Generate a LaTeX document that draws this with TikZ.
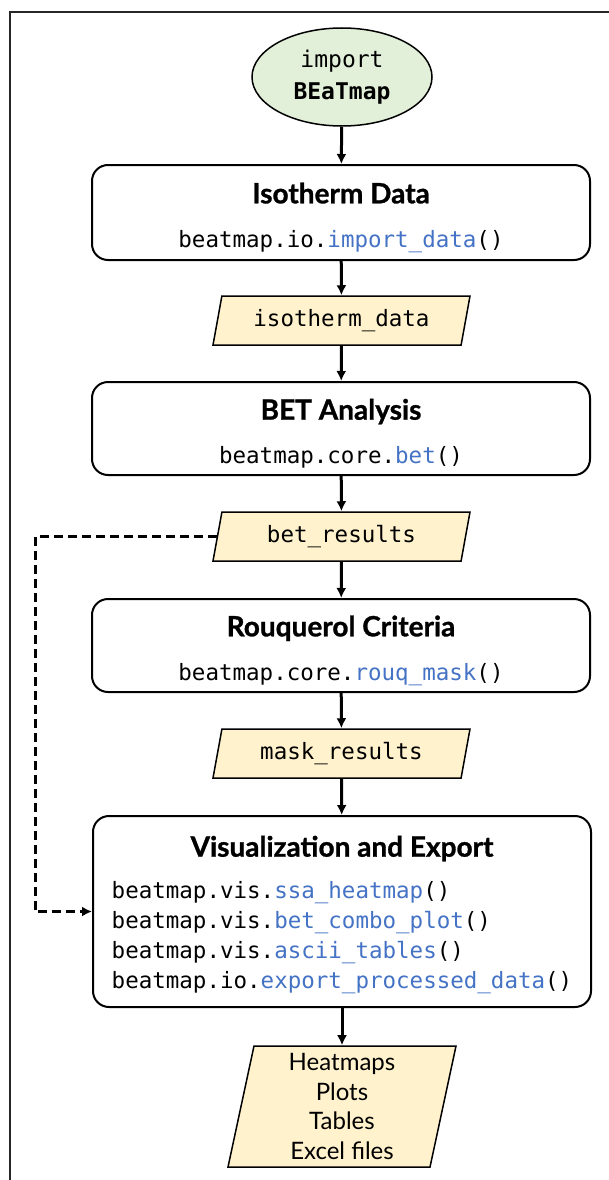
\documentclass[tikz,border=0pt]{standalone}
\usepackage{fontspec}
\setmainfont{Lato}
\setmonofont{DejaVu Sans Mono}
\newfontfamily\titlefont{Lato}[BoldFeatures={FakeBold=1}]
\usepackage{xcolor}
\usetikzlibrary{arrows.meta,shapes.geometric,positioning}

\definecolor{startgreen}{HTML}{E2EFD9}
\definecolor{datayellow}{HTML}{FFF2CC}
\definecolor{fnblue}{HTML}{4472C4}

\newcommand{\fn}[1]{\textcolor{fnblue}{#1}}
\newcommand{\boxtitle}[1]{{\fontsize{28}{32}\titlefont\bfseries\rule{0pt}{31pt}#1}}

\tikzset{
    stepbox/.style={draw, line width=2pt, rounded corners=16pt,
        minimum width=498pt, align=center,
        font=\ttfamily\fontsize{22.5}{30}\selectfont},
    databox/.style={draw, line width=1.5pt, fill=datayellow, trapezium,
        trapezium left angle=73, trapezium right angle=107,
        trapezium stretches body, minimum width=257pt, minimum height=49pt,
        inner xsep=0pt, font=\ttfamily\fontsize{22.5}{27}\selectfont},
    flow/.style={line width=3pt, -{Latex[length=10pt,width=10pt]}},
    dashflow/.style={flow, dash pattern=on 9pt off 5pt},
}

\begin{document}
\begin{tikzpicture}[x=1pt, y=-1pt]
    \useasboundingbox (0,0) rectangle (609,1180);
    \draw[line width=2pt, black!85] (10,1180) -- (10,12) -- (609,12);

    \node[ellipse, draw, line width=1.5pt, fill=startgreen, minimum width=180pt,
        minimum height=98pt, align=center,
        font=\ttfamily\fontsize{23}{32}\selectfont] (start) at (342,77)
        {import\\\textbf{BEaTmap}};

    \node[stepbox, minimum height=95pt] (iso) at (341,212.5)
        {\boxtitle{Isotherm Data}\\[14pt]beatmap.io.\fn{import\_data}()};
    \node[databox] (isodata) at (341.5,320.5) {isotherm\_data};

    \node[stepbox, minimum height=93pt] (bet) at (341,428.5)
        {\boxtitle{BET Analysis}\\[14pt]beatmap.core.\fn{bet}()};
    \node[databox] (betres) at (341.5,536.5) {bet\_results};

    \node[stepbox, minimum height=93pt] (rouq) at (341,645.5)
        {\boxtitle{Rouquerol Criteria}\\[14pt]beatmap.core.\fn{rouq\_mask}()};
    \node[databox] (maskres) at (341.5,753.5) {mask\_results};

    \node[stepbox, minimum height=191pt] (vis) at (342,911.5)
        {\boxtitle{Visualization and Export}\\[15pt]
        \begin{tabular}{@{}l@{}}
            beatmap.vis.\fn{ssa\_heatmap}()\\
            beatmap.vis.\fn{bet\_combo\_plot}()\\
            beatmap.vis.\fn{ascii\_tables}()\\
            beatmap.io.\fn{export\_processed\_data}()
        \end{tabular}};

    \node[databox, trapezium left angle=77, trapezium right angle=103,
        minimum width=228pt, minimum height=121pt, align=center,
        font=\fontsize{24}{29.5}\selectfont] (out) at (342,1106.5)
        {Heatmaps\\Plots\\Tables\\Excel files};

    % main flow
    \draw[flow] (start) -- (iso);
    \draw[flow] (iso) -- (isodata);
    \draw[flow] (isodata) -- (bet);
    \draw[flow] (bet) -- (betres);
    \draw[flow] (betres) -- (rouq);
    \draw[flow] (rouq) -- (maskres);
    \draw[flow] (maskres) -- (vis);
    \draw[flow] (vis) -- (out);

    % bet results straight to the plots
    \coordinate (dashx) at (35,0);
    \draw[dashflow] (betres.west) -- (betres.west -| dashx) |- (vis.west);
\end{tikzpicture}
\end{document}
